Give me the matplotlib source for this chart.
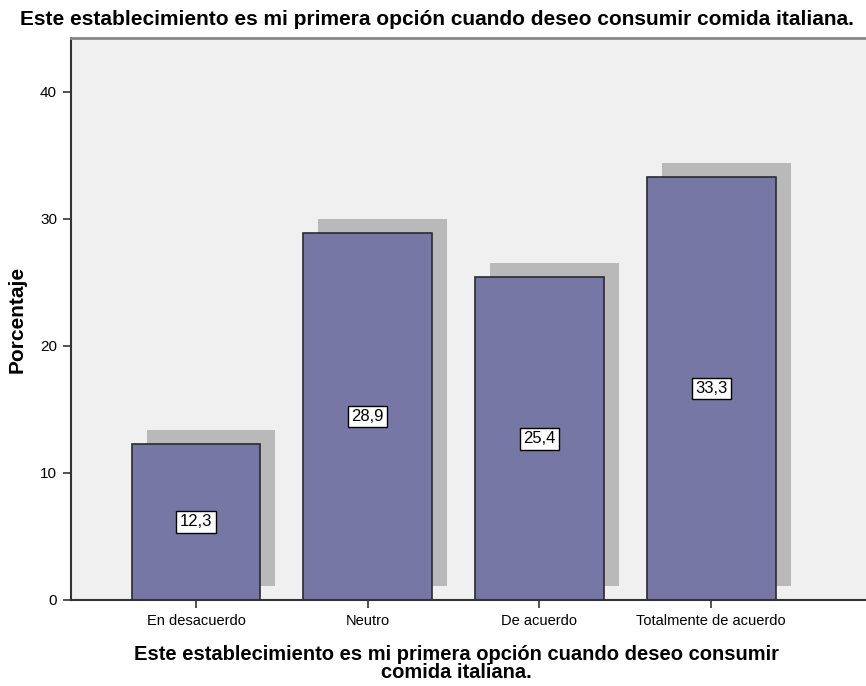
import matplotlib
matplotlib.use("Agg")
import matplotlib.pyplot as plt
from matplotlib import transforms

plt.rcParams['font.family'] = ['Liberation Sans', 'DejaVu Sans']

categories = ["En desacuerdo", "Neutro", "De acuerdo", "Totalmente de acuerdo"]
porcentajes = [12.3, 28.9, 25.4, 33.3]
value_labels = ["12,3", "28,9", "25,4", "33,3"]
y_ticks = [0, 10, 20, 30, 40]

title = "Este establecimiento es mi primera opción cuando deseo consumir comida italiana."
x_title = "Este establecimiento es mi primera opción cuando deseo consumir\ncomida italiana."

fig = plt.figure(figsize=(8.66, 6.86), dpi=100)
ax = fig.add_axes([0.082, 0.1254, 0.918, 0.8192])
ax.set_facecolor("#f0f0f0")

x = list(range(len(categories)))
width = 0.751

# drop shadow behind each bar, shifted right/up in screen pixels
shadow = transforms.offset_copy(ax.transData, fig=fig, x=15, y=14, units='dots')
ax.bar(x, porcentajes, width=width, bottom=0,
       color="#b9b9b9", edgecolor="none", transform=shadow, zorder=1)

ax.bar(x, porcentajes, width=width, color="#7777a6", edgecolor="#2b2b2b",
       linewidth=1.2, zorder=2)

for xi, v, lab in zip(x, porcentajes, value_labels):
    ax.text(xi, v / 2, lab, ha="center", va="center", fontsize=12, zorder=3,
            bbox=dict(boxstyle="square,pad=0.2", fc="white", ec="black", lw=1))

ax.set_xlim(-0.728, 3.902)
ax.set_ylim(0, 44.25)
ax.set_xticks(x)
ax.set_xticklabels(categories, fontsize=10.5)
ax.set_yticks(y_ticks)
ax.set_yticklabels([str(t) for t in y_ticks], fontsize=11)
ax.tick_params(axis="both", length=6, width=1.2, color="#333333", pad=4)

for s in ["left", "bottom"]:
    ax.spines[s].set_color("#333333")
    ax.spines[s].set_linewidth(1.5)
ax.spines["top"].set_color("#888888")
ax.spines["top"].set_linewidth(2)
ax.spines["right"].set_visible(False)

ax.set_ylabel("Porcentaje", fontsize=15, fontweight="bold", labelpad=10)
fig.text(0.527, 0.006, x_title, ha="center", va="bottom", fontsize=14.5,
         fontweight="bold", linespacing=0.95, multialignment="center")
fig.text(0.505, 0.972, title, ha="center", va="center", fontsize=15, fontweight="bold")

fig.savefig("out.png", dpi=100)
